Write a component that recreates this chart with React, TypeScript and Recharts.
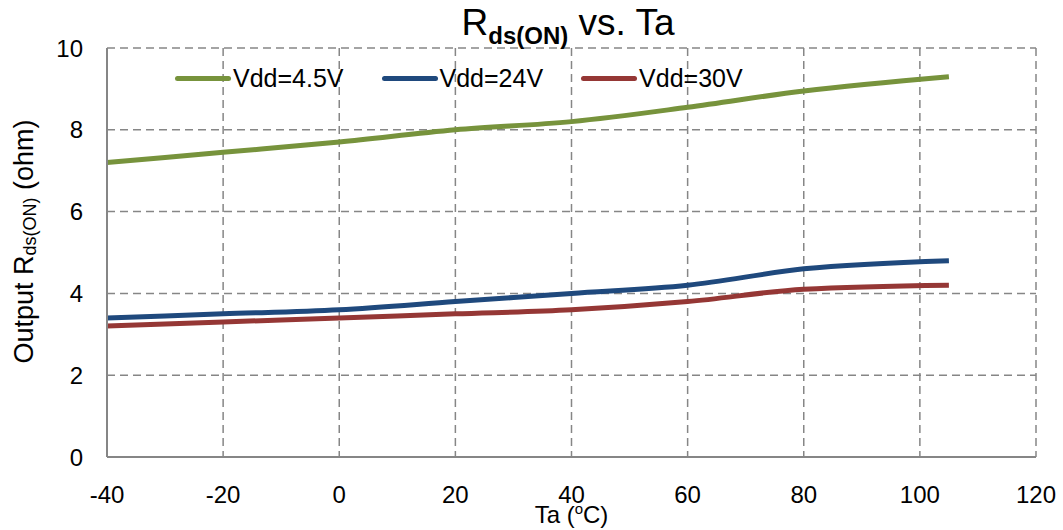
import React from "react";
import { LineChart, Line, XAxis, YAxis, CartesianGrid, Label } from "recharts";

const temps = [-40, -20, 0, 20, 40, 60, 80, 105];
const vdd45 = [7.2, 7.45, 7.7, 8.0, 8.2, 8.55, 8.95, 9.3];
const vdd24 = [3.4, 3.5, 3.6, 3.8, 4.0, 4.2, 4.6, 4.8];
const vdd30 = [3.2, 3.3, 3.4, 3.5, 3.6, 3.8, 4.1, 4.2];
const xTicks = [-40, -20, 0, 20, 40, 60, 80, 100, 120];
const yTicks = [0, 2, 4, 6, 8, 10];
const seriesNames = ["Vdd=4.5V", "Vdd=24V", "Vdd=30V"];
const seriesColors = ["#77933C", "#1F497D", "#953735"];

const data = temps.map((t, i) => ({ t, a: vdd45[i], b: vdd24[i], c: vdd30[i] }));

const FONT = "'Liberation Sans', Arial, sans-serif";

const LegendBox = () => (
  <div
    style={{
      position: "absolute",
      left: 175,
      top: 64,
      display: "flex",
      alignItems: "center",
      fontFamily: FONT,
      fontSize: 25,
      color: "#000",
      zIndex: 2,
    }}
  >
    {seriesNames.map((n, i) => (
      <div key={n} style={{ display: "flex", alignItems: "center", marginRight: 38 }}>
        <div style={{ width: 56, height: 5, borderRadius: 3, background: seriesColors[i], marginRight: 2 }} />
        <span>{n}</span>
      </div>
    ))}
  </div>
);

const YLabel = (props: any) => {
  const vb = props.viewBox || {};
  const cx = 24;
  const cy = vb.y + vb.height / 2 - 11;
  return (
    <text
      x={cx}
      y={cy}
      transform={`rotate(-90, ${cx}, ${cy})`}
      textAnchor="middle"
      dominantBaseline="central"
      fontFamily={FONT}
      fontSize={27}
      fill="#000"
    >
      <tspan>Output R</tspan>
      <tspan fontSize={18} dy={6}>ds(ON)</tspan>
      <tspan dy={-6}> (ohm)</tspan>
    </text>
  );
};

const XLabel = (props: any) => {
  const vb = props.viewBox || {};
  const cx = vb.x + vb.width / 2;
  return (
    <text x={cx} y={523} textAnchor="middle" fontFamily={FONT} fontSize={24} fill="#000">
      <tspan>Ta (</tspan>
      <tspan fontSize={15} dy={-9}>o</tspan>
      <tspan dy={9}>C)</tspan>
    </text>
  );
};

export default function App() {
  return (
    <div style={{ position: "absolute", left: 0, top: 0, width: 1063, height: 530, background: "#fff" }}>
      <div
        style={{
          position: "absolute",
          left: 0,
          top: 2,
          width: 1136,
          textAlign: "center",
          fontFamily: FONT,
          fontSize: 37,
          color: "#000",
          zIndex: 2,
          whiteSpace: "nowrap",
        }}
      >
        R<sub style={{ fontSize: 24, fontWeight: "bold", verticalAlign: "-9px" }}>ds(ON)</sub> vs. Ta
      </div>
      <LegendBox />
      <LineChart
        width={1063}
        height={530}
        data={data}
        margin={{ top: 48, right: 27, bottom: 0, left: 47 }}
      >
        <CartesianGrid stroke="#868686" strokeDasharray="8 5" strokeWidth={1.5} />
        <XAxis
          dataKey="t"
          type="number"
          domain={[-40, 120]}
          ticks={xTicks}
          interval={0}
          height={73}
          tickLine={false}
          tickSize={0}
          tickMargin={29}
          axisLine={{ stroke: "#868686", strokeWidth: 2 }}
          tick={{ fill: "#000", fontSize: 24, fontFamily: FONT }}
        >
          <Label content={<XLabel />} />
        </XAxis>
        <YAxis
          type="number"
          domain={[0, 10]}
          ticks={yTicks}
          interval={0}
          width={60}
          tickLine={false}
          tickSize={0}
          tickMargin={24}
          axisLine={{ stroke: "#868686", strokeWidth: 2 }}
          tick={{ fill: "#000", fontSize: 24, fontFamily: FONT }}
        >
          <Label content={<YLabel />} />
        </YAxis>
        <Line dataKey="a" type="monotone" stroke={seriesColors[0]} strokeWidth={5} dot={false} isAnimationActive={false} />
        <Line dataKey="b" type="monotone" stroke={seriesColors[1]} strokeWidth={5} dot={false} isAnimationActive={false} />
        <Line dataKey="c" type="monotone" stroke={seriesColors[2]} strokeWidth={5} dot={false} isAnimationActive={false} />
      </LineChart>
    </div>
  );
}
